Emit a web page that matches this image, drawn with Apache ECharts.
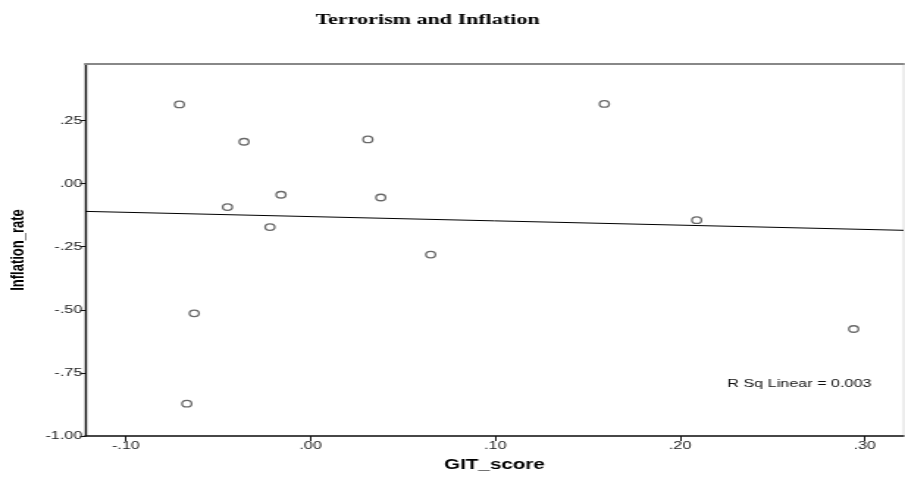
<!DOCTYPE html>
<html>
<head>
<meta charset="utf-8">
<script src="https://cdn.jsdelivr.net/npm/echarts@6/dist/echarts.min.js"></script>
<style>
html,body{margin:0;padding:0;background:#fff;overflow:hidden}
#wrap{width:905px;height:479px;overflow:hidden}
/* the reference picture is stretched horizontally; reproduce it by stretching the chart */
#c{width:616px;height:479px;transform:scaleX(1.4692);transform-origin:0 0}
</style>
</head>
<body>
<div id="wrap"><div id="c"></div></div>
<script>
// Data
var gitScore = [-0.071, -0.036, 0.031, -0.016, 0.038, -0.045, -0.022, 0.065, 0.159, 0.209, -0.063, -0.067, 0.294];
var inflationRate = [0.314, 0.166, 0.175, -0.044, -0.055, -0.093, -0.172, -0.281, 0.316, -0.145, -0.514, -0.872, -0.576];
var fitX = [-0.122, 0.321];
var fitY = [-0.110, -0.185];
var xTicks = [-0.1, 0, 0.1, 0.2, 0.3];
var yTicks = [-1, -0.75, -0.5, -0.25, 0, 0.25];

var points = gitScore.map(function (x, i) { return [x, inflationRate[i]]; });
var fitLine = fitX.map(function (x, i) { return [x, fitY[i]]; });
function fmt(v) { return Number(v).toFixed(2).replace('0.', '.'); }
var sans = '"Liberation Sans", Arial, sans-serif';

var chart = echarts.init(document.getElementById('c'), null, { renderer: 'canvas', width: 616, height: 479 });
chart.setOption({
  animation: false,
  backgroundColor: '#fff',
  title: {
    text: 'Terrorism and Inflation',
    left: 286, top: 8, textAlign: 'center',
    textStyle: { fontFamily: '"Liberation Serif", "Times New Roman", serif', fontWeight: 'bold', fontSize: 15, color: '#000' }
  },
  grid: { left: 58, right: 1, top: 64, bottom: 43, outerBoundsMode: 'none', containLabel: false, show: true, borderColor: '#dcdcdc', borderWidth: 1, backgroundColor: '#fff' },
  xAxis: [{
    type: 'value', min: -0.122, max: 0.321,
    name: 'GIT_score', nameLocation: 'middle', nameGap: 22,
    nameTextStyle: { fontFamily: sans, fontWeight: 'bold', fontSize: 14, color: '#000' },
    axisLine: { show: true, onZero: false, lineStyle: { color: '#111', width: 1.5 } },
    axisTick: { show: true, length: 5, lineStyle: { color: '#111', width: 1 }, customValues: xTicks },
    axisLabel: { customValues: xTicks, formatter: fmt, fontFamily: sans, fontSize: 11, color: '#222', margin: 4 },
    splitLine: { show: false }
  }, {
    type: 'value', position: 'top', min: -0.122, max: 0.321,
    axisLine: { show: true, onZero: false, lineStyle: { color: '#888', width: 2 } },
    axisTick: { show: false }, axisLabel: { show: false }, splitLine: { show: false }
  }],
  yAxis: {
    type: 'value', min: -1, max: 0.474,
    name: 'Inflation_rate', nameLocation: 'middle', nameGap: 39, nameRotate: 90,
    nameTextStyle: { fontFamily: sans, fontWeight: 'bold', fontSize: 13, color: '#000' },
    axisLine: { show: true, onZero: false, lineStyle: { color: '#111', width: 1.4 } },
    axisTick: { show: true, length: 3.5, lineStyle: { color: '#111', width: 1 }, customValues: yTicks },
    axisLabel: { customValues: yTicks, formatter: fmt, fontFamily: sans, fontSize: 11, color: '#222', margin: 2 },
    splitLine: { show: false }
  },
  series: [{
    type: 'line', data: fitLine, showSymbol: false, symbol: 'none',
    lineStyle: { color: '#000', width: 1 }, z: 2, silent: true
  }, {
    type: 'scatter', data: points, symbol: 'circle', symbolSize: 6.5,
    itemStyle: { color: '#fff', borderColor: '#444', borderWidth: 1.3 }, z: 3
  }],
  graphic: [{
    type: 'text', left: 495, top: 378,
    style: { text: 'R Sq Linear = 0.003', fontFamily: sans, fontSize: 11, fill: '#111' }
  }]
});
</script>
</body>
</html>
